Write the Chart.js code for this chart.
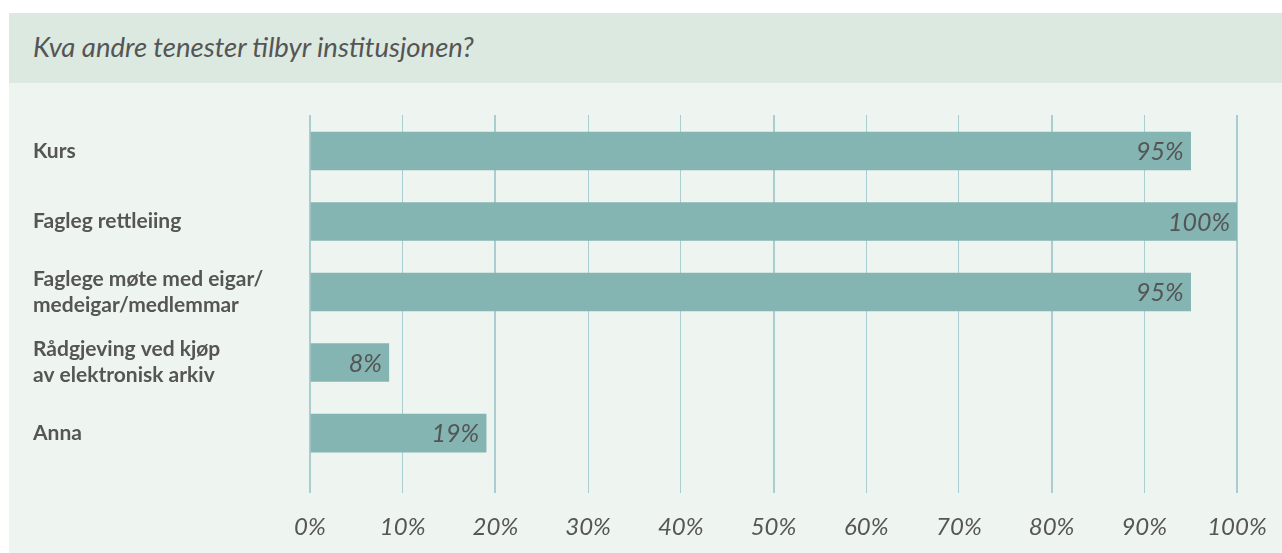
<!DOCTYPE html>
<html>
<head>
<meta charset="utf-8">
<script src="https://cdn.jsdelivr.net/npm/chart.js@4.4.1/dist/chart.umd.min.js"></script>
<style>
  body { margin: 0; background: #ffffff; }
  #panel { position: absolute; left: 9px; top: 13px; width: 1273px; height: 540px; }
  #tittel {
    height: 70px; background: #dbe9e0; color: #555555;
    font-family: Lato, sans-serif; font-style: italic; font-size: 27.5px;
    line-height: 68px; padding-left: 24px; box-sizing: border-box;
  }
  #graf { position: relative; height: 470px; background: #eef5f1; }
</style>
</head>
<body>
<div id="panel">
  <div id="tittel">Kva andre tenester tilbyr institusjonen?</div>
  <div id="graf"><canvas id="tenesterChart"></canvas></div>
</div>
<script>
// Data frå figuren
const kategoriar = [
    'Kurs',
    'Fagleg rettleiing',
    ['Faglege møte med eigar/', 'medeigar/medlemmar'],
    ['Rådgjeving ved kjøp', 'av elektronisk arkiv'],
    'Anna'
];
const prosent = [95, 100, 95, 8.5, 19];
const prosentTekst = ['95%', '100%', '95%', '8%', '19%'];
const xTicks = [0, 10, 20, 30, 40, 50, 60, 70, 80, 90, 100];
const tjukkeLinjer = [0, 20, 50, 80, 100];

const farger = {
    bar: '#84b5b2',
    grid: '#a9cdd1',
    tekst: '#555555'
};

// Verdiar inne i enden av søylene
const verdiPlugin = {
    id: 'verdiTekst',
    afterDatasetsDraw(chart) {
        const ctx = chart.ctx;
        const meta = chart.getDatasetMeta(0);
        ctx.save();
        ctx.font = 'italic 25px Lato, sans-serif';
        ctx.fillStyle = farger.tekst;
        ctx.textAlign = 'right';
        ctx.textBaseline = 'middle';
        meta.data.forEach((bar, i) => {
            ctx.fillText(prosentTekst[i], bar.x - 7, bar.y + 1);
        });
        ctx.restore();
    }
};

const ctx = document.getElementById('tenesterChart').getContext('2d');
new Chart(ctx, {
    type: 'bar',
    data: {
        datasets: [{
            data: prosent.map((v, i) => ({ x: v, y: i })),
            backgroundColor: farger.bar,
            borderWidth: 0,
            barThickness: 38
        }]
    },
    plugins: [verdiPlugin],
    options: {
        indexAxis: 'y',
        responsive: true,
        maintainAspectRatio: false,
        animation: false,
        layout: {
            padding: { top: 32, left: 24, right: 45, bottom: 11 }
        },
        plugins: {
            legend: { display: false },
            tooltip: { enabled: false }
        },
        scales: {
            x: {
                type: 'linear',
                min: 0,
                max: 100,
                afterBuildTicks: (axis) => {
                    axis.ticks = xTicks.map(v => ({ value: v }));
                },
                afterFit: (axis) => {
                    axis.height = 49;
                    axis.paddingLeft = 0;
                    axis.paddingRight = 0;
                },
                border: { display: false },
                grid: {
                    color: farger.grid,
                    drawTicks: false,
                    lineWidth: (c) => tjukkeLinjer.includes(c.tick.value) ? 2 : 1
                },
                ticks: {
                    padding: 20,
                    maxRotation: 0,
                    color: farger.tekst,
                    font: { family: 'Lato', style: 'italic', size: 24 },
                    callback: (v) => v + '%'
                }
            },
            y: {
                type: 'linear',
                offset: false,
                reverse: true,
                min: -0.51,
                max: 4.85,
                afterBuildTicks: (axis) => {
                    axis.ticks = kategoriar.map((_, i) => ({ value: i }));
                },
                afterFit: (axis) => {
                    axis.width = 277;
                    axis.paddingTop = 0;
                    axis.paddingBottom = 0;
                },
                border: { display: false },
                grid: { display: false, offset: false },
                ticks: {
                    crossAlign: 'far',
                    color: farger.tekst,
                    font: { family: 'Lato', weight: 'bold', size: 21, lineHeight: 1.24 },
                    callback: (v) => kategoriar[v]
                }
            }
        }
    }
});
</script>
</body>
</html>
